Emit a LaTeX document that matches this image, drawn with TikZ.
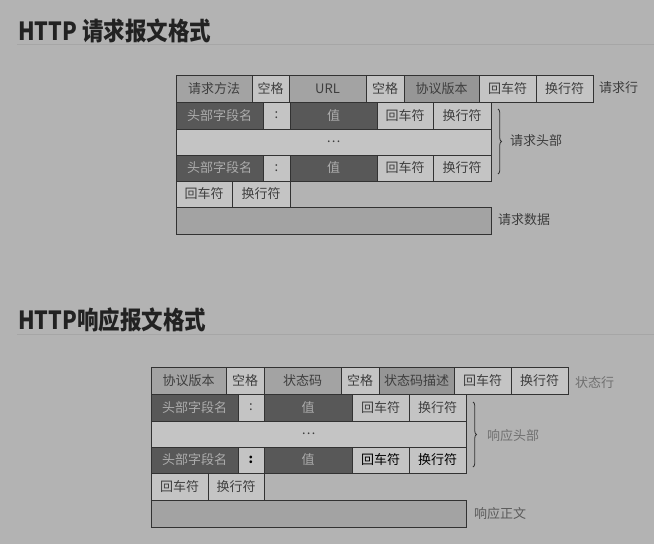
\documentclass[tikz,border=0pt]{standalone}
\usepackage{fontspec}
\setmainfont{Noto Sans CJK SC}
\usetikzlibrary{decorations.pathreplacing}
\definecolor{bgc}{RGB}{179,179,179}
\definecolor{lightc}{RGB}{196,196,196}
\definecolor{medc}{RGB}{163,163,163}
\definecolor{medd}{RGB}{150,150,150}
\definecolor{darkc}{RGB}{88,88,88}
\definecolor{borderc}{RGB}{50,50,50}
\definecolor{txtc}{RGB}{62,62,62}
\definecolor{txtl}{RGB}{172,172,172}
\definecolor{lblc}{RGB}{60,60,60}
\definecolor{lblg}{RGB}{112,112,112}
\definecolor{titlec}{RGB}{34,34,34}
\definecolor{rulec}{RGB}{166,166,166}
\newcommand\mycell[7]{%
  \pgfmathsetmacro\cw{#4-#2}\pgfmathsetmacro\ch{#5-#3}%
  \node[cellbox,#6,minimum width=\cw pt,minimum height=\ch pt,anchor=north west] (#1) at (#2,#3) {#7};}
\tikzset{
  cellbox/.style={draw=borderc,line width=0.9pt,inner sep=0pt,outer sep=0pt,font=\fontsize{13}{15}\selectfont,text=txtc},
  lt/.style={fill=lightc},
  md/.style={fill=medc},
  mdd/.style={fill=medd},
  dk/.style={fill=darkc,text=txtl},
  lbl/.style={font=\fontsize{13}{15}\selectfont,text=lblc,inner sep=0pt,anchor=west},
  lblgray/.style={lbl,text=lblg},
  titlebox/.style={font=\fontsize{25}{28}\bfseries\selectfont,text=titlec,inner sep=0pt,anchor=west,xscale=0.86},
  bracebox/.style={draw=borderc,line width=0.8pt,decorate,decoration={brace,amplitude=3.5pt}}
}
\begin{document}
\begin{tikzpicture}[x=1pt,y=-1pt]
\fill[bgc] (0,0) rectangle (654,544);
\useasboundingbox (0,0) rectangle (654,544);
% ---------- request ----------
\node[titlebox] (t1) at (18,31) {HTTP 请求报文格式};
\coordinate (r1a) at (17,44); \coordinate (r1b) at (654,44);
\draw[rulec,line width=1pt] (r1a) -- (r1b);
% row 1
\mycell{q11}{176}{75}{252}{102}{md}{请求方法}
\mycell{q12}{252}{75}{289}{102}{lt}{空格}
\mycell{q13}{289}{75}{366}{102}{md}{URL}
\mycell{q14}{366}{75}{404}{102}{lt}{空格}
\mycell{q15}{404}{75}{479}{102}{mdd}{协议版本}
\mycell{q16}{479}{75}{536}{102}{lt}{回车符}
\mycell{q17}{536}{75}{593}{102}{lt}{换行符}
\node[lbl] (ql1) at (599,88) {请求行};
% row 2
\mycell{q21}{176}{102}{263}{129}{dk}{头部字段名}
\mycell{q22}{263}{102}{290}{129}{lt}{:}
\mycell{q23}{290}{102}{377}{129}{dk}{值}
\mycell{q24}{377}{102}{433}{129}{lt}{回车符}
\mycell{q25}{433}{102}{491}{129}{lt}{换行符}
% row 3
\mycell{q31}{176}{129}{491}{155}{lt}{…}
% row 4
\mycell{q41}{176}{155}{263}{181}{dk}{头部字段名}
\mycell{q42}{263}{155}{290}{181}{lt}{:}
\mycell{q43}{290}{155}{377}{181}{dk}{值}
\mycell{q44}{377}{155}{433}{181}{lt}{回车符}
\mycell{q45}{433}{155}{491}{181}{lt}{换行符}
% row 5
\mycell{q51}{176}{181}{232}{207}{lt}{回车符}
\mycell{q52}{232}{181}{290}{207}{lt}{换行符}
% row 6
\mycell{q61}{176}{207}{491}{234}{md}{}
\coordinate (qb1) at (498,109); \coordinate (qb2) at (498,174);
\draw[bracebox] (qb1) -- (qb2);
\node[lbl] (ql2) at (510,141) {请求头部};
\node[lbl] (ql3) at (498,220) {请求数据};
% ---------- response ----------
\node[titlebox] (t2) at (18,320) {HTTP响应报文格式};
\coordinate (r2a) at (17,334); \coordinate (r2b) at (654,334);
\draw[rulec,line width=1pt] (r2a) -- (r2b);
% row 1
\mycell{p11}{151}{367}{226}{394}{md}{协议版本}
\mycell{p12}{226}{367}{264}{394}{lt}{空格}
\mycell{p13}{264}{367}{341}{394}{md}{状态码}
\mycell{p14}{341}{367}{379}{394}{lt}{空格}
\mycell{p15}{379}{367}{454}{394}{mdd}{状态码描述}
\mycell{p16}{454}{367}{511}{394}{lt}{回车符}
\mycell{p17}{511}{367}{568}{394}{lt}{换行符}
\node[lblgray] (pl1) at (575,383) {状态行};
% row 2
\mycell{p21}{151}{394}{238}{421}{dk}{头部字段名}
\mycell{p22}{238}{394}{264}{421}{lt}{:}
\mycell{p23}{264}{394}{352}{421}{dk}{值}
\mycell{p24}{352}{394}{409}{421}{lt}{回车符}
\mycell{p25}{409}{394}{466}{421}{lt}{换行符}
% row 3
\mycell{p31}{151}{421}{466}{447}{lt}{…}
% row 4
\mycell{p41}{151}{447}{238}{473}{dk}{头部字段名}
\mycell{p42}{238}{447}{264}{473}{lt,text=black,font=\fontsize{13}{15}\bfseries\selectfont}{:}
\mycell{p43}{264}{447}{352}{473}{dk}{值}
\mycell{p44}{352}{447}{409}{473}{lt,text=black}{回车符}
\mycell{p45}{409}{447}{466}{473}{lt,text=black}{换行符}
% row 5
\mycell{p51}{151}{473}{208}{500}{lt}{回车符}
\mycell{p52}{208}{473}{264}{500}{lt}{换行符}
% row 6
\mycell{p61}{151}{500}{466}{527}{md}{}
\coordinate (pb1) at (473,402); \coordinate (pb2) at (473,467);
\draw[bracebox] (pb1) -- (pb2);
\node[lblgray] (pl2) at (487,436) {响应头部};
\node[lbl,text=lblg!80!black] (pl3) at (474,514) {响应正文};
\end{tikzpicture}
\end{document}
